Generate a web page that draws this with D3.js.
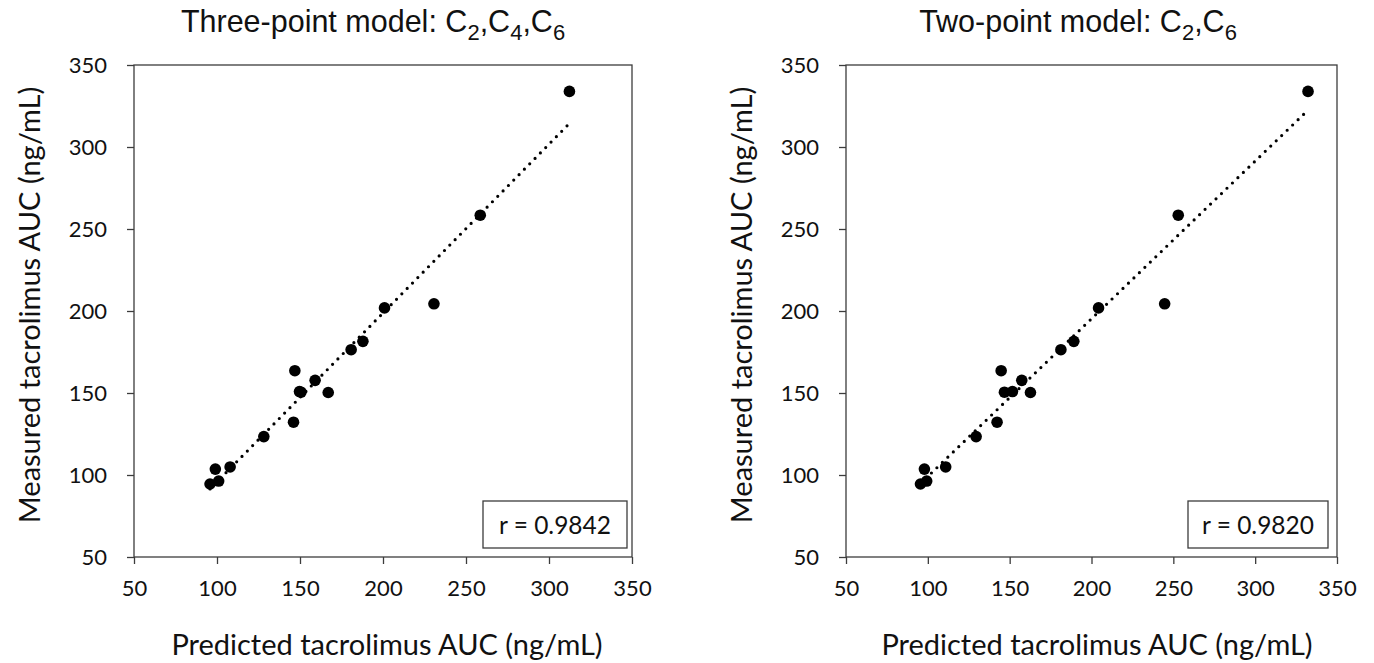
<!DOCTYPE html>
<html>
<head>
<meta charset="utf-8">
<script src="https://cdn.jsdelivr.net/npm/d3@7/dist/d3.min.js"></script>
<style>
  html, body { margin: 0; padding: 0; background: #fff; }
  svg { display: block; }
  .tick text { font-family: Lato, "Open Sans", sans-serif; font-size: 22px; fill: #111; }
</style>
</head>
<body>
<svg id="chart" width="1374" height="663"></svg>
<script>
// Measured AUC shared by both panels (ng/mL)
const measured = [94.5, 96.3, 103.6, 104.9, 123.4, 132.2, 150.3, 150.5, 150.9, 157.7, 163.6, 176.4, 181.5, 201.9, 204.4, 258.4, 333.9];
// Predicted AUC from the C2, C4, C6 model
const predictedThreePoint = [95.8, 101.0, 99.0, 107.9, 128.2, 146.1, 167.0, 150.6, 149.7, 159.1, 146.9, 180.8, 187.9, 200.9, 230.7, 258.6, 312.3];
// Predicted AUC from the C2, C6 model
const predictedTwoPoint = [95.5, 99.3, 97.9, 110.9, 129.5, 142.3, 162.7, 146.8, 151.7, 157.4, 144.8, 181.3, 189.2, 204.3, 244.7, 253.0, 332.3];

const axisTicks = [50, 100, 150, 200, 250, 300, 350];
const axisDomain = [50, 350];

const titleThreePoint = [["Three-point model: C", false], ["2", true], [",C", false], ["4", true], [",C", false], ["6", true]];
const titleTwoPoint = [["Two-point model: C", false], ["2", true], [",C", false], ["6", true]];
const rLabels = ["r = 0.9842", "r = 0.9820"];

const xAxisTitle = "Predicted tacrolimus AUC (ng/mL)";
const yAxisTitle = "Measured tacrolimus AUC (ng/mL)";

const svg = d3.select("#chart");
const lineColor = "#3c3c3c";
const plotTop = 65, plotBottom = 557;
const subShift = 7.5;

const panels = [
  { x0: 134, x1: 632, predicted: predictedThreePoint, title: titleThreePoint, titleX: 373,
    r: rLabels[0], yTitleX: 40, xTitleX: 387, box: { x: 483, y: 501, w: 144, h: 47 } },
  { x0: 846, x1: 1337, predicted: predictedTwoPoint, title: titleTwoPoint, titleX: 1078,
    r: rLabels[1], yTitleX: 752, xTitleX: 1097, box: { x: 1188, y: 501, w: 140, h: 47 } }
];

panels.forEach(p => {
  const x = d3.scaleLinear().domain(axisDomain).range([p.x0, p.x1]);
  const y = d3.scaleLinear().domain(axisDomain).range([plotBottom, plotTop]);
  const g = svg.append("g");

  // plot frame
  g.append("rect")
    .attr("x", p.x0).attr("y", plotTop)
    .attr("width", p.x1 - p.x0).attr("height", plotBottom - plotTop)
    .attr("fill", "none").attr("stroke", lineColor).attr("stroke-width", 1.3);

  // axes
  const xAxis = g.append("g").attr("transform", `translate(0,${plotBottom})`)
    .call(d3.axisBottom(x).tickValues(axisTicks).tickSize(7).tickSizeOuter(0).tickPadding(16));
  const yAxis = g.append("g").attr("transform", `translate(${p.x0},0)`)
    .call(d3.axisLeft(y).tickValues(axisTicks).tickSize(7).tickSizeOuter(0).tickPadding(20));
  [xAxis, yAxis].forEach(a => {
    a.select(".domain").remove();
    a.selectAll(".tick line").attr("stroke", lineColor).attr("stroke-width", 1.3);
    a.selectAll(".tick text").attr("fill", "#111");
  });

  // least-squares trendline over the data range
  const pts = p.predicted.map((v, i) => [v, measured[i]]);
  const mx = d3.mean(pts, d => d[0]), my = d3.mean(pts, d => d[1]);
  const sxy = d3.sum(pts, d => (d[0] - mx) * (d[1] - my));
  const sxx = d3.sum(pts, d => (d[0] - mx) * (d[0] - mx));
  const slope = sxy / sxx, icpt = my - slope * mx;
  const [xmin, xmax] = d3.extent(p.predicted);
  g.append("line")
    .attr("x1", x(xmin)).attr("y1", y(icpt + slope * xmin))
    .attr("x2", x(xmax)).attr("y2", y(icpt + slope * xmax))
    .attr("stroke", "#000").attr("stroke-width", 3.2)
    .attr("stroke-linecap", "round").attr("stroke-dasharray", "0 7.6");

  // points
  g.selectAll("circle.pt").data(pts).join("circle")
    .attr("class", "pt")
    .attr("cx", d => x(d[0])).attr("cy", d => y(d[1]))
    .attr("r", 5.8).attr("fill", "#000");

  // correlation box
  g.append("rect")
    .attr("x", p.box.x).attr("y", p.box.y).attr("width", p.box.w).attr("height", p.box.h)
    .attr("fill", "#fff").attr("stroke", lineColor).attr("stroke-width", 1.3);
  g.append("text")
    .attr("x", p.box.x + p.box.w / 2).attr("y", p.box.y + 33)
    .attr("text-anchor", "middle")
    .attr("font-family", "Lato, 'Open Sans', sans-serif").attr("font-size", 24.5)
    .attr("fill", "#111").text(p.r);

  // title with subscripts
  const t = svg.append("text")
    .attr("x", p.titleX).attr("y", 32)
    .attr("text-anchor", "middle")
    .attr("font-family", "'Liberation Sans', Arial, sans-serif").attr("font-size", 30.5)
    .attr("fill", "#111");
  let down = false;
  p.title.forEach(([s, sub]) => {
    const ts = t.append("tspan").text(s);
    if (sub) { ts.attr("dy", down ? 0 : subShift).attr("font-size", 22); down = true; }
    else { if (down) ts.attr("dy", -subShift); down = false; }
  });

  // axis titles
  svg.append("text")
    .attr("x", p.xTitleX).attr("y", 655)
    .attr("text-anchor", "middle")
    .attr("font-family", "Lato, 'Open Sans', sans-serif").attr("font-size", 29)
    .attr("fill", "#111").text(xAxisTitle);
  svg.append("text")
    .attr("transform", `translate(${p.yTitleX},305) rotate(-90)`)
    .attr("text-anchor", "middle")
    .attr("font-family", "Lato, 'Open Sans', sans-serif").attr("font-size", 29)
    .attr("fill", "#111").text(yAxisTitle);
});
</script>
</body>
</html>
